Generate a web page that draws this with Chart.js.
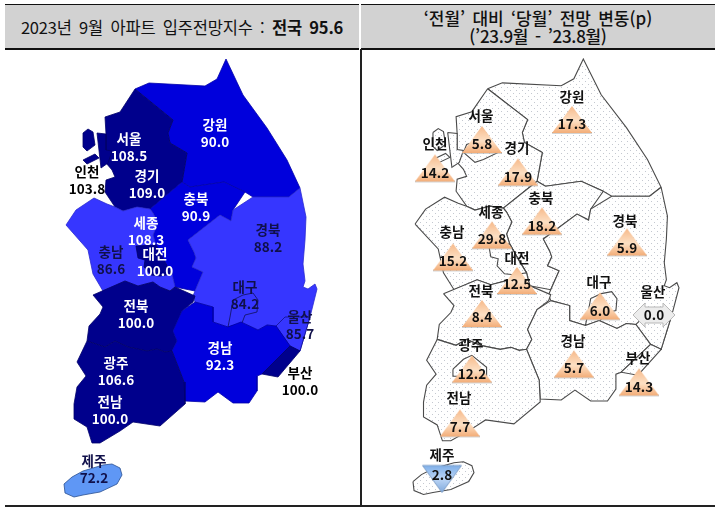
<!DOCTYPE html>
<html lang="ko"><head><meta charset="utf-8">
<script src="https://cdn.jsdelivr.net/npm/chart.js@4"></script>
<style>
html,body{margin:0;padding:0;background:#fff;width:720px;height:514px;overflow:hidden}
#c{position:absolute;left:0;top:0}
.h{position:absolute;top:4px;height:43px;background:#d2d2d2;border-top:1.5px solid #111;border-bottom:2px solid #111;
 display:flex;flex-direction:column;align-items:center;justify-content:center;color:#111;
 font-family:"Noto Sans CJK KR","Noto Sans",sans-serif;white-space:pre}
#h1{left:5px;width:354px;font-size:16.5px;letter-spacing:-.2px;word-spacing:3px}
#h2{left:361px;width:354px;font-size:17px;font-weight:500;line-height:18px;word-spacing:2.5px}
#h2 .l2{word-spacing:-1px;letter-spacing:-.3px}
#h1 b{font-weight:700}
.v{position:absolute;background:#222}
</style></head><body>
<canvas id="c" width="720" height="514"></canvas>
<div class="h" id="h1"><div>2023년 9월 아파트 입주전망지수 : <b>전국 95.6</b></div></div>
<div class="h" id="h2"><div>‘전월’ 대비 ‘당월’ 전망 변동(p)</div><div class="l2">(’23.9월  -  ’23.8월)</div></div>
<div class="v" style="left:5px;top:505px;width:710px;height:2px"></div>
<div class="v" style="left:360px;top:49px;width:1.5px;height:457px"></div>
<script>
// Region names, index values and month-on-month change
const regions = ['강원','서울','경기','인천','충북','세종','충남','대전','경북','대구','울산','전북','경남','광주','전남','부산','제주'];
const indexValues = ['90.0','108.5','109.0','103.8','90.9','108.3','86.6','100.0','88.2','84.2','85.7','100.0','92.3','106.6','100.0','100.0','72.2'];
const changeValues = ['17.3','5.8','17.9','14.2','18.2','29.8','15.2','12.5','5.9','6.0','0.0','8.4','5.7','12.2','7.7','14.3','2.8'];

// Map outlines (map units)
const gangwon = [[135,89],[149,83],[205,86],[217,79],[226,59],[243,95],[267,128],[287,160],[300,188],[289,197],[253,197],[245,192],[224,182],[190,187],[182,182],[187,153],[170,143],[168,133],[173,120]];
const gyeonggi = [[135,89],[173,120],[168,133],[170,143],[187,153],[182,182],[150,209],[137,207],[123,211],[115,207],[105,192],[106,180],[115,177],[112,170],[106,163],[106,134],[105,117],[120,112]];
const incheon = [[97,133],[106,134],[106,150],[112,151],[108,163],[101,168]];
const ganghwa = [[83,133],[88,129],[93,132],[95,145],[87,151],[83,147]];
const yeongjong = [[83,160],[95,154],[99,158],[87,164]];
const seoul = [[112,153],[123,163],[131,160],[145,153],[130,140],[115,145]];
const chungbuk = [[182,182],[190,187],[224,182],[245,192],[233,210],[231,221],[220,215],[188,240],[194,252],[196,258],[192,267],[203,272],[195,291],[175,287],[172,274],[165,262],[156,245],[153,235],[158,223],[153,213],[150,209]];
const chungnam = [[66,225],[76,210],[94,198],[107,204],[115,207],[123,211],[137,207],[150,209],[153,213],[158,223],[153,235],[156,245],[165,262],[172,274],[175,287],[170,291],[160,287],[153,282],[138,286],[125,281],[112,287],[103,291],[93,274],[88,250]];
const daejeon = [[136,246],[156,245],[165,262],[172,274],[160,276],[151,275],[144,267],[145,260],[138,258]];
const gyeongbuk = [[300,188],[306,217],[305,240],[303,264],[305,281],[303,287],[308,289],[315,284],[317,289],[310,317],[300,351],[290,346],[276,326],[267,325],[258,330],[241,322],[228,327],[213,322],[213,307],[195,302],[193,296],[195,291],[203,272],[192,267],[196,258],[194,252],[188,240],[220,215],[231,221],[233,210],[253,197],[289,197]];
const daegu = [[228,327],[230,317],[233,300],[243,295],[253,293],[258,300],[257,312],[245,315],[242,323]];
const ulsan = [[276,326],[285,317],[310,317],[300,351],[290,346]];
const jeonbuk = [[93,295],[125,281],[138,286],[153,282],[160,287],[170,291],[175,287],[195,296],[193,302],[182,311],[173,331],[177,341],[172,351],[165,352],[157,349],[147,351],[128,347],[115,341],[105,347],[87,341],[89,326],[100,314],[103,307]];
const gyeongnam = [[195,302],[213,307],[213,322],[228,327],[241,322],[258,330],[267,325],[276,326],[290,346],[262,374],[257,376],[257,391],[249,403],[233,403],[218,392],[205,402],[185,401],[184,382],[172,351],[177,341],[173,331],[182,311]];
const busan = [[290,346],[300,351],[278,377],[262,374]];
const jeonnam = [[87,341],[105,347],[115,341],[128,347],[147,351],[157,349],[165,352],[172,351],[184,382],[185,404],[160,426],[133,422],[120,431],[100,443],[92,443],[87,427],[74,419],[74,404],[77,387],[86,376],[77,362]];
const gwangju = [[102,371],[112,361],[120,357],[134,369],[134,378],[102,378]];
const jeju = [[64,484],[72,477],[83,471],[103,465],[112,464],[120,468],[122,475],[117,484],[100,492],[83,495],[74,497],[65,493]];

const shapes = [gangwon,gyeonggi,chungbuk,chungnam,daejeon,gyeongbuk,ulsan,daegu,jeonbuk,gyeongnam,busan,jeonnam,gwangju,incheon,seoul,ganghwa,yeongjong,jeju];
const DARK='#00008c', MID='#0000dc', LIGHT='#3636ff', PALE='#5f97f5';
const shapeColors = [MID,DARK,MID,LIGHT,DARK,LIGHT,LIGHT,LIGHT,DARK,MID,DARK,DARK,DARK,DARK,DARK,DARK,DARK,PALE];
const shapeEdges = ['#0000a8','#00006a','#0000a8','#2a2ad0','#00006a','#2a2ad0','#10108a','#10105a','#00006a','#0000a8','#00006a','#00006a','#00008c','#00006a','#00008c','#00006a','#00006a','#2a4f90'];

// Label anchors on the page
const leftAt = [[215,125],[129,139],[147,176],[87,172],[196,199],[146,223],[111,252],[155,254],[268,230],[245,287],[300,317],[136,306],[220,348],[116,363],[110,402],[300,373],[94,461]];
const leftInk = ['#fff','#fff','#fff','#000','#fff','#fff','#10104a','#fff','#10104a','#10104a','#10104a','#fff','#fff','#fff','#fff','#000','#10104a'];
const markAt = [[572,119.5],[482,139.5],[518,172],[435,168],[542,221],[492,235],[453,257],[517,280.5],[627,242],[600,306],[654,315],[482,313.5],[574,364],[472,369],[460,423],[639,382],[442,479]];
const valueY = [124,144,177,173,226,239,261,284,248,311,315,317,368,374,427,387,475];
const nameAt = [[572,97],[481,116],[517,148],[435,144],[541,198],[491,212],[452,232],[517,258],[625,221],[599,282],[653,292],[481,291],[573,341],[471,345],[459,398],[638,358],[442,455]];

function dots(){
  const p=document.createElement('canvas');p.width=6;p.height=6;
  const g=p.getContext('2d');g.fillStyle='#fff';g.fillRect(0,0,6,6);
  g.fillStyle='#c4c8d0';g.fillRect(0,0,1,1);g.fillRect(3,3,1,1);
  return document.getElementById('c').getContext('2d').createPattern(p,'repeat');
}
function sprite(w,h,draw){const s=document.createElement('canvas');s.width=w;s.height=h;draw(s.getContext('2d'));return s;}
const W=42,H=31;
const upMark=sprite(W,H,g=>{
  g.fillStyle='#a8a8a8';g.beginPath();g.moveTo(1,29.5);g.lineTo(41,29.5);g.lineTo(41,28);g.lineTo(1,28);g.fill();
  const f=g.createLinearGradient(0,2,0,29);f.addColorStop(0,'#f6b98a');f.addColorStop(.55,'#fde0c4');f.addColorStop(1,'#f3ad78');
  g.fillStyle=f;g.beginPath();g.moveTo(21,2);g.lineTo(41,29);g.lineTo(1,29);g.closePath();g.fill();
});
const downMark=sprite(W,H,g=>{
  const f=g.createLinearGradient(0,2,0,29);f.addColorStop(0,'#7fb0ea');f.addColorStop(.5,'#bcd6f6');f.addColorStop(1,'#7fa8dc');
  g.fillStyle=f;g.strokeStyle='#7f9fc8';g.beginPath();g.moveTo(1.5,2);g.lineTo(40.5,2);g.lineTo(21,29);g.closePath();g.fill();g.stroke();
});
const flatMark=sprite(44,26,g=>{
  g.fillStyle='#ececec';g.strokeStyle='#b8b8b8';g.lineWidth=1;
  g.beginPath();g.moveTo(1,13);g.lineTo(13,1);g.lineTo(13,5);g.lineTo(31,5);g.lineTo(31,1);g.lineTo(43,13);g.lineTo(31,25);g.lineTo(31,21);g.lineTo(13,21);g.lineTo(13,25);g.closePath();g.fill();g.stroke();
});

const pt=a=>a.concat([a[0]]).map(p=>({x:p[0],y:p[1]}));
const datasets=[];
datasets.push({type:'scatter',order:0,xAxisID:'x',yAxisID:'y',showLine:false,clip:false,
  data:markAt.map(p=>({x:p[0],y:p[1]})),
  pointStyle:changeValues.map((v,i)=>regions[i]==='제주'?downMark:(v==='0.0'?flatMark:upMark)),
  pointRadius:15,pointBorderWidth:0});
const pattern=dots();
shapes.forEach((s,i)=>{
  datasets.push({type:'scatter',order:100-i,xAxisID:'x',yAxisID:'y',data:pt(s),showLine:true,fill:'shape',tension:0,clip:false,
    backgroundColor:shapeColors[i],borderColor:shapeEdges[i],borderWidth:0.8,pointRadius:0});
  datasets.push({type:'scatter',order:200-i,xAxisID:'xMap',yAxisID:'yMap',data:pt(s),showLine:true,fill:'shape',tension:0,clip:false,
    backgroundColor:(s===seoul||s===daegu||s===gwangju||s===daejeon)?'rgba(255,255,255,0)':pattern,borderColor:'#4a4a4a',borderWidth:1.1,pointRadius:0});
});

const labelPlugin={id:'mapLabels',afterDatasetsDraw(ch){
  const g=ch.ctx,X=ch.scales.x,Y=ch.scales.y;
  g.save();g.textAlign='center';g.textBaseline='middle';
  const font='"Noto Sans CJK KR","Noto Sans",sans-serif';
  regions.forEach((r,i)=>{
    g.fillStyle=leftInk[i];g.font='700 13.5px '+font;
    g.fillText(r,X.getPixelForValue(leftAt[i][0]),Y.getPixelForValue(leftAt[i][1]));
    g.fillText(indexValues[i],X.getPixelForValue(leftAt[i][0]),Y.getPixelForValue(leftAt[i][1]+17));
    g.fillStyle='#111';
    g.fillText(r,X.getPixelForValue(nameAt[i][0]),Y.getPixelForValue(nameAt[i][1]));
    g.fillText(changeValues[i],X.getPixelForValue(markAt[i][0]),Y.getPixelForValue(valueY[i]));
  });
  g.restore();
}};
const hidden=o=>Object.assign({type:'linear',display:false,offset:false,grid:{display:false},ticks:{display:false}},o);
new Chart(document.getElementById('c'),{
  type:'scatter',data:{datasets},plugins:[labelPlugin],
  options:{responsive:false,animation:false,events:[],devicePixelRatio:1,layout:{padding:0,autoPadding:false},
    plugins:{legend:{display:false},tooltip:{enabled:false},title:{display:false}},
    scales:{
      x:hidden({min:0,max:720}),y:hidden({min:0,max:514,reverse:true}),
      xMap:hidden({min:-328.8,max:356.0}),yMap:hidden({min:-0.3,max:516.6,reverse:true})
    }}
});
</script>
</body></html>
